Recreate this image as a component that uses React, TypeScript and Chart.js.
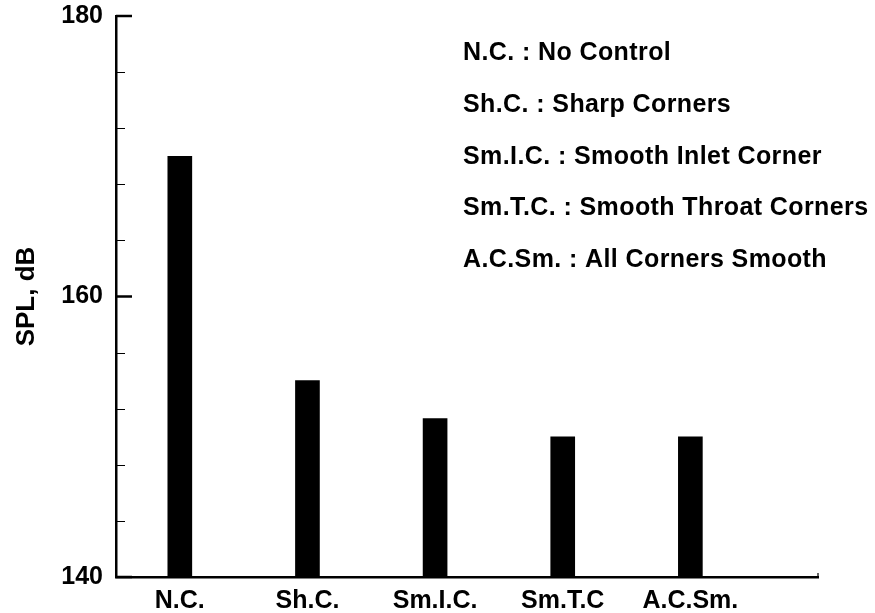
import React, { useEffect, useRef } from "react";
import { Chart, registerables } from "chart.js";

Chart.register(...registerables);

const categories = ["N.C.", "Sh.C.", "Sm.I.C.", "Sm.T.C", "A.C.Sm."];
const splValues = [170.0, 154.0, 151.3, 150.0, 150.0];
const legendLines = [
  "N.C. : No Control",
  "Sh.C. : Sharp Corners",
  "Sm.I.C. : Smooth Inlet Corner",
  "Sm.T.C. : Smooth Throat Corners",
  "A.C.Sm. : All Corners Smooth",
];
const yMin = 140;
const yMax = 180;
const yMajorStep = 20;
const yMinorStep = 4;
const xMax = 5.5;

const FONT = '"Liberation Sans", Arial, Helvetica, sans-serif';

const decorPlugin = {
  id: "decor",
  afterDraw(chart: any) {
    const ctx = chart.ctx;
    const y = chart.scales.y;
    const area = chart.chartArea;
    ctx.save();
    ctx.strokeStyle = "#000";
    // minor ticks (inward)
    ctx.lineWidth = 1;
    for (let v = yMin + yMinorStep; v < yMax; v += yMinorStep) {
      if ((v - yMin) % yMajorStep === 0) continue;
      const py = Math.round(y.getPixelForValue(v)) + 0.5;
      ctx.beginPath();
      ctx.moveTo(area.left, py);
      ctx.lineTo(area.left + 9, py);
      ctx.stroke();
    }
    // major ticks (inward)
    ctx.lineWidth = 2.5;
    for (let v = yMin; v <= yMax; v += yMajorStep) {
      const py = y.getPixelForValue(v);
      ctx.beginPath();
      ctx.moveTo(area.left, py);
      ctx.lineTo(area.left + 16, py);
      ctx.stroke();
    }
    // small end tick at right of x axis
    ctx.lineWidth = 1.2;
    ctx.beginPath();
    ctx.moveTo(area.right, area.bottom);
    ctx.lineTo(area.right, area.bottom - 4);
    ctx.stroke();
    // legend text
    ctx.fillStyle = "#000";
    ctx.font = `bold 25px ${FONT}`;
    ctx.textAlign = "left";
    ctx.textBaseline = "alphabetic";
    try {
      (ctx as any).letterSpacing = "0.4px";
    } catch (e) {}
    const baselines = [60, 112, 164, 215, 267];
    legendLines.forEach((t, i) => {
      ctx.fillText(t, 463, baselines[i]);
    });
    ctx.restore();
  },
};

export default function App() {
  const ref = useRef<HTMLCanvasElement | null>(null);
  useEffect(() => {
    if (!ref.current) return;
    const chart = new Chart(ref.current, {
      type: "bar",
      data: {
        datasets: [
          {
            data: categories.map((c, i) => ({ x: i + 0.5, y: splValues[i] })),
            backgroundColor: "#000",
            borderWidth: 0,
            barThickness: 24,
          },
        ],
      },
      options: {
        animation: false,
        responsive: false,
        events: [],
        layout: { padding: { top: 16, right: 57, bottom: 0, left: 0 } },
        plugins: {
          legend: { display: false },
          tooltip: { enabled: false },
          title: { display: false },
        },
        scales: {
          x: {
            type: "linear",
            min: 0,
            max: xMax,
            offset: false,
            grid: { display: false, drawTicks: false, offset: false },
            border: { display: true, color: "#000", width: 2.5 },
            afterBuildTicks: (s: any) => {
              s.ticks = categories.map((_, i) => ({ value: i + 0.5 }));
            },
            afterFit: (s: any) => {
              s.height = 36;
              s.paddingLeft = 0;
              s.paddingRight = 0;
            },
            ticks: {
              autoSkip: false,
              maxRotation: 0,
              padding: 9,
              color: "#000",
              font: { family: FONT, size: 25, weight: "bold" },
              callback: (v: any) => categories[Math.round(Number(v) - 0.5)] ?? "",
            },
          },
          y: {
            type: "linear",
            min: yMin,
            max: yMax,
            grid: { display: false, drawTicks: false },
            border: { display: true, color: "#000", width: 2.5 },
            afterFit: (s: any) => {
              s.width = 116;
              s.paddingTop = 0;
              s.paddingBottom = 0;
            },
            ticks: {
              stepSize: yMajorStep,
              padding: 13,
              color: "#000",
              font: { family: FONT, size: 25, weight: "bold" },
            },
            title: {
              display: true,
              text: "SPL, dB",
              color: "#000",
              padding: { top: 11, bottom: 0 },
              font: { family: FONT, size: 26, weight: "bold" },
            },
          },
        },
      },
      plugins: [decorPlugin],
    });
    return () => chart.destroy();
  }, []);
  return (
    <div style={{ position: "fixed", left: 0, top: 0, width: 875, height: 613, background: "#fff" }}>
      <canvas ref={ref} width={875} height={613} style={{ display: "block" }} />
    </div>
  );
}
